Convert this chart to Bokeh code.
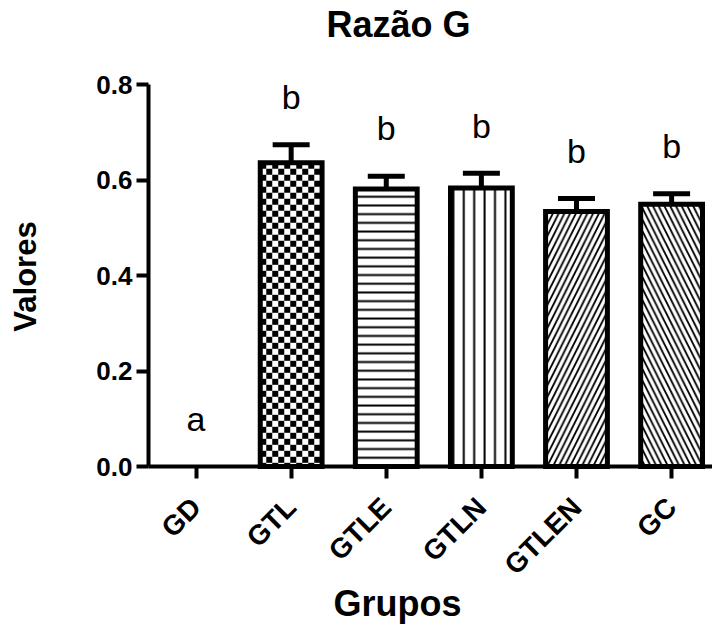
import math
import numpy as np
from bokeh.plotting import figure
from bokeh.models import (ColumnDataSource, Range1d, FixedTicker, Whisker, TeeHead,
                          Label, CDSView, BooleanFilter)
from bokeh.core.properties import value
from bokeh.embed import file_html
from bokeh.resources import INLINE

# ---- data ----
groups = ["GD", "GTL", "GTLE", "GTLN", "GTLEN", "GC"]
means = [0.0, 0.636, 0.581, 0.583, 0.534, 0.549]
sems = [0.0, 0.038, 0.027, 0.031, 0.027, 0.022]
letters = ["a", "b", "b", "b", "b", "b"]
y_ticks = [0.0, 0.2, 0.4, 0.6, 0.8]
y_tick_labels = ["0.0", "0.2", "0.4", "0.6", "0.8"]
title_text = "Razão G"
x_title = "Grupos"
y_title = "Valores"

# ---- styles / layout ----
hatches = ["blank", "blank", "horizontal_line", "vertical_line",
           "right_diagonal_line", "left_diagonal_line"]
hatch_scales = [8, 8, 8.7, 10.4, 11.5, 11.5]
hatch_weights = [1, 1, 2, 2, 1.8, 1.8]
FONT = "Liberation Sans"
W, H = 712, 626
AXIS_X_PX = 148                  # pixel column of the y axis
Y0_PX, Y08_PX = 466, 84          # pixel rows of y = 0 and y = 0.8
px_per_y = (Y0_PX - Y08_PX) / 0.8
Y_LO = -(H - Y0_PX) / px_per_y
Y_HI = 0.8 + Y08_PX / px_per_y
XA, X1 = -0.5, 5.43              # x at the y axis, x at the right edge
px_per_x = (W - AXIS_X_PX) / (X1 - XA)
X_LO = XA - AXIS_X_PX / px_per_x

xs = list(range(len(groups)))
upper = [m + s for m, s in zip(means, sems)]
letter_y = [u + 0.1 for u in upper]

src = ColumnDataSource(dict(x=xs, top=means, upper=upper, lower=means,
                            hatch=hatches, hs=hatch_scales, hw=hatch_weights,
                            ly=letter_y, lt=letters))
nonzero = CDSView(filter=BooleanFilter([m > 0 for m in means]))

p = figure(width=W, height=H, output_backend="svg", toolbar_location=None,
           x_range=Range1d(X_LO, X1), y_range=Range1d(Y_LO, Y_HI),
           min_border_left=0, min_border_right=0, min_border_top=0,
           min_border_bottom=0)
p.outline_line_color = None
p.grid.visible = False
p.background_fill_color = "white"
p.border_fill_color = "white"

BAR_W = 0.65
p.vbar(x="x", top="top", bottom=0, width=BAR_W, source=src, view=nonzero,
       fill_color="white", line_color=None,
       hatch_pattern="hatch", hatch_scale="hs", hatch_weight="hw",
       hatch_color="black")

# checkerboard for GTL
cell = 6.0
ci = groups.index("GTL")
bl, br = xs[ci] - BAR_W / 2, xs[ci] + BAR_W / 2
btop = means[ci]
dx, dy = cell / px_per_x, cell / px_per_y
ncol = int(math.ceil((br - bl) / dx))
nrow = int(math.ceil(btop / dy))
L, R, B, T = [], [], [], []
for i in range(nrow):
    for j in range(ncol):
        if (i + j) % 2 == 0:
            l = bl + j * dx
            r = min(bl + (j + 1) * dx, br)
            b = max(btop - (i + 1) * dy, 0)
            t = btop - i * dy
            L.append(l); R.append(r); B.append(b); T.append(t)
p.quad(left=L, right=R, bottom=B, top=T, fill_color="black", line_color=None)

p.vbar(x="x", top="top", bottom=0, width=BAR_W, source=src, view=nonzero,
       fill_color=None, line_color="black", line_width=5, line_join="miter")

esrc = ColumnDataSource(dict(x=[x for x, s in zip(xs, sems) if s > 0],
                             upper=[u for u, s in zip(upper, sems) if s > 0],
                             lower=[m for m, s in zip(means, sems) if s > 0]))
wh = Whisker(base="x", upper="upper", lower="lower", source=esrc,
             dimension="height", line_width=5, line_color="black",
             upper_head=TeeHead(size=37, line_width=5, line_color="black"),
             lower_head=None, level="glyph")
p.add_layout(wh)

p.text(x="x", y="ly", text="lt", source=src, text_align="center",
       text_baseline="alphabetic", text_font=value(FONT),
       text_font_size="34px", text_color="black")

for ax in (p.xaxis[0], p.yaxis[0]):
    ax.axis_line_width = 4
    ax.axis_line_color = "black"
    ax.major_tick_line_width = 4
    ax.major_tick_line_color = "black"
    ax.major_tick_out = 12
    ax.major_tick_in = 0
    ax.minor_tick_line_color = None
    ax.major_label_text_font = FONT
    ax.major_label_text_font_style = "bold"
    ax.major_label_text_color = "black"

p.yaxis.fixed_location = XA
p.yaxis.major_label_text_font_size = "26px"
p.yaxis.ticker = FixedTicker(ticks=y_ticks)
p.yaxis.bounds = (y_ticks[0], y_ticks[-1])
p.yaxis.major_label_overrides = {t: l for t, l in zip(y_ticks, y_tick_labels)}
p.yaxis.major_label_standoff = 4

p.xaxis.fixed_location = 0
p.xaxis.bounds = (XA, X1)
p.xaxis.major_label_text_font_size = "28px"
p.xaxis.ticker = FixedTicker(ticks=xs)
p.xaxis.major_label_overrides = {x: g for x, g in zip(xs, groups)}
p.xaxis.major_label_orientation = math.pi / 4
p.xaxis.major_label_standoff = 24

# titles (screen units relative to the frame's bottom-left = canvas bottom-left)
p.add_layout(Label(text=title_text, x=326, y=H - 24, x_units="screen", y_units="screen",
                   text_font=FONT, text_font_style="bold", text_font_size="36px",
                   text_color="black", text_baseline="alphabetic", text_align="left"))
p.add_layout(Label(text=x_title, x=333, y=H - 603, x_units="screen", y_units="screen",
                   text_font=FONT, text_font_style="bold", text_font_size="36px",
                   text_color="black", text_baseline="alphabetic", text_align="left"))
p.add_layout(Label(text=y_title, x=25, y=H - 276, x_units="screen", y_units="screen",
                   angle=math.pi / 2,
                   text_font=FONT, text_font_style="bold", text_font_size="31px",
                   text_color="black", text_baseline="alphabetic", text_align="center"))

open("out.html", "w").write(file_html(p, INLINE))
